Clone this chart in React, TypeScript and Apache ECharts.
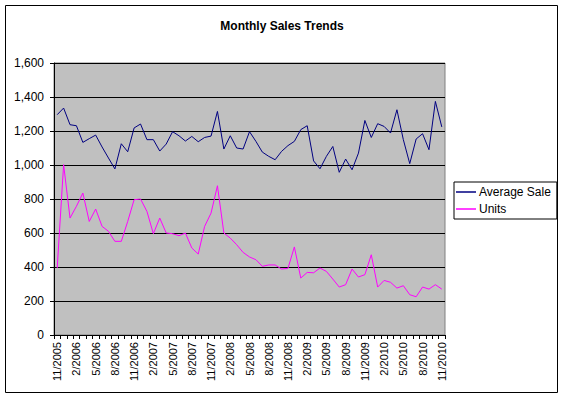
import React, { useEffect, useRef } from "react";
import * as echarts from "echarts";

const months: string[] = [
  "11/2005", "12/2005",
  "1/2006", "2/2006", "3/2006", "4/2006", "5/2006", "6/2006", "7/2006", "8/2006", "9/2006", "10/2006", "11/2006", "12/2006",
  "1/2007", "2/2007", "3/2007", "4/2007", "5/2007", "6/2007", "7/2007", "8/2007", "9/2007", "10/2007", "11/2007", "12/2007",
  "1/2008", "2/2008", "3/2008", "4/2008", "5/2008", "6/2008", "7/2008", "8/2008", "9/2008", "10/2008", "11/2008", "12/2008",
  "1/2009", "2/2009", "3/2009", "4/2009", "5/2009", "6/2009", "7/2009", "8/2009", "9/2009", "10/2009", "11/2009", "12/2009",
  "1/2010", "2/2010", "3/2010", "4/2010", "5/2010", "6/2010", "7/2010", "8/2010", "9/2010", "10/2010", "11/2010",
];

const averageSale: number[] = [
  1296, 1335, 1237, 1231, 1133, 1155, 1176, 1106, 1041, 977,
  1125, 1078, 1218, 1241, 1149, 1149, 1082, 1123, 1196, 1172,
  1141, 1168, 1137, 1162, 1170, 1315, 1094, 1172, 1100, 1094,
  1196, 1139, 1076, 1051, 1031, 1080, 1114, 1139, 1208, 1231,
  1024, 978, 1051, 1109, 957, 1035, 972, 1070, 1262, 1162,
  1243, 1227, 1188, 1325, 1149, 1008, 1153, 1184, 1090, 1374,
  1224,
];

const units: number[] = [
  394, 1002, 688, 757, 835, 668, 741, 639, 610, 551,
  551, 668, 796, 800, 727, 596, 688, 600, 596, 584,
  600, 512, 476, 639, 717, 878, 600, 570, 531, 486,
  459, 443, 404, 412, 412, 388, 392, 518, 335, 368,
  366, 394, 374, 329, 282, 296, 388, 341, 355, 472,
  282, 321, 310, 276, 290, 237, 225, 282, 270, 296,
  270,
];

const yTicks = { min: 0, max: 1600, interval: 200 };
const FONT = "'Liberation Sans', Arial, sans-serif";

export default function App() {
  const ref = useRef<HTMLDivElement>(null);
  useEffect(() => {
    if (!ref.current) return;
    const chart = echarts.init(ref.current, undefined, { renderer: "svg" });
    chart.setOption({
      animation: false,
      backgroundColor: "#ffffff",
      title: {
        text: "Monthly Sales Trends",
        left: "center",
        top: 15,
        textStyle: { fontFamily: FONT, fontSize: 12, fontWeight: "bold", color: "#000" },
      },
      graphic: [
        {
          type: "rect",
          shape: { x: 5.5, y: 5.5, width: 552, height: 387 },
          style: { fill: "none", stroke: "#000", lineWidth: 1 },
          silent: true,
        },
      ],
      legend: {
        orient: "vertical",
        left: 454,
        top: 182,
        width: 100,
        backgroundColor: "#ffffff",
        borderColor: "#000",
        borderWidth: 1,
        borderRadius: 0,
        padding: [4, 6, 4, 2],
        itemGap: 5,
        itemWidth: 20,
        itemHeight: 1.5,
        icon: "rect",
        textStyle: { fontFamily: FONT, fontSize: 12, color: "#000", padding: [0, 0, 0, -2] },
        data: ["Average Sale", "Units"],
      },
      grid: {
        left: 54,
        right: 119,
        top: 63,
        bottom: 64,
        show: true,
        backgroundColor: "#C0C0C0",
        borderColor: "#808080",
        borderWidth: 1,
      },
      xAxis: {
        type: "category",
        data: months,
        boundaryGap: true,
        axisLine: { lineStyle: { color: "#000", width: 1 } },
        axisTick: { show: true, interval: 0, length: 4, lineStyle: { color: "#000" } },
        axisLabel: {
          interval: 2,
          rotate: 90,
          margin: 7,
          fontFamily: FONT,
          fontSize: 11,
          color: "#000",
        },
        splitLine: { show: false },
      },
      yAxis: {
        type: "value",
        min: yTicks.min,
        max: yTicks.max,
        interval: yTicks.interval,
        axisLine: { show: true, lineStyle: { color: "#000", width: 1 } },
        axisTick: { show: true, length: 4, lineStyle: { color: "#000" } },
        axisLabel: {
          margin: 10,
          fontFamily: FONT,
          fontSize: 12,
          color: "#000",
          formatter: (v: number) => v.toLocaleString("en-US"),
        },
        splitLine: { show: true, lineStyle: { color: "#000", width: 1 } },
      },
      series: [
        {
          name: "Average Sale",
          type: "line",
          data: averageSale,
          symbol: "none",
          color: "#000080",
          lineStyle: { color: "#000080", width: 1 },
        },
        {
          name: "Units",
          type: "line",
          data: units,
          symbol: "none",
          color: "#FF00FF",
          lineStyle: { color: "#FF00FF", width: 1 },
        },
      ],
    });
    return () => chart.dispose();
  }, []);
  return <div ref={ref} style={{ width: 564, height: 399, position: "absolute", left: 0, top: 0 }} />;
}
